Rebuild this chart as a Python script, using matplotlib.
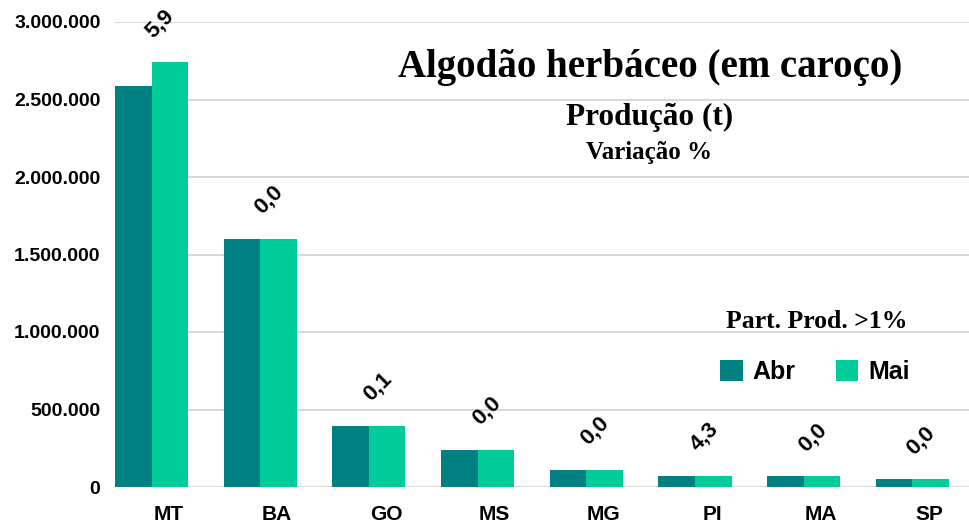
import matplotlib
matplotlib.use("Agg")
import matplotlib.pyplot as plt
from matplotlib.ticker import FuncFormatter, FixedLocator
import matplotlib.transforms as mtransforms
import numpy as np

categories = ["MT", "BA", "GO", "MS", "MG", "PI", "MA", "SP"]
abr = [2586000, 1601000, 396000, 239000, 109000, 70000, 70000, 50000]
mai = [2741000, 1601000, 396400, 239000, 109000, 73000, 70000, 50000]
variacao = [5.9, 0.0, 0.1, 0.0, 0.0, 4.3, 0.0, 0.0]
yticks = [0, 500000, 1000000, 1500000, 2000000, 2500000, 3000000]
series_names = ["Abr", "Mai"]

c_abr = "#008080"
c_mai = "#00CC99"
grid_c = "#D9D9D9"

fig = plt.figure(figsize=(9.7, 5.24), dpi=100)
ax = fig.add_axes([115/970, 1 - 487/524, 1 - 115/970, (487 - 22)/524])

x = np.arange(len(categories))
w = 0.336
ax.bar(x - w/2, abr, width=w, color=c_abr, label=series_names[0], zorder=2)
ax.bar(x + w/2, mai, width=w, color=c_mai, label=series_names[1], zorder=2)

ax.set_ylim(0, 3000000)
ax.set_xlim(-w, 7.53)
ax.yaxis.set_major_locator(FixedLocator(yticks))
ax.yaxis.set_major_formatter(FuncFormatter(lambda v, p: f"{int(v):,}".replace(",", ".")))
ax.grid(axis="y", color=grid_c, linewidth=1.5, zorder=0)
for s in ["top", "right", "left", "bottom"]:
    ax.spines[s].set_visible(False)
ax.axhline(0, color=grid_c, linewidth=1.5, zorder=1)

ax.tick_params(axis="y", length=0, pad=10.5)
ax.tick_params(axis="x", length=0, pad=13)
ax.set_xticks(x)
ax.set_xticklabels(categories)
for lab in ax.get_yticklabels():
    lab.set_fontfamily("Liberation Sans")
    lab.set_fontweight("bold")
    lab.set_fontsize(14)
offset = mtransforms.ScaledTranslation(17/100, 0, fig.dpi_scale_trans)
for lab in ax.get_xticklabels():
    lab.set_fontfamily("Liberation Sans")
    lab.set_fontweight("bold")
    lab.set_fontsize(15)
    lab.set_transform(lab.get_transform() + offset)

for i, (v, m) in enumerate(zip(variacao, mai)):
    ax.annotate(f"{v:.1f}".replace(".", ","), xy=(i + 0.08, m), xytext=(0, 28),
                textcoords="offset points", rotation=45, ha="center", va="center",
                fontfamily="Liberation Sans", fontweight="bold", fontsize=16,
                rotation_mode="anchor", zorder=3)

fig.text(650/970, 1 - 67/524, "Algodão herbáceo (em caroço)", ha="center", va="center",
         fontfamily="Liberation Serif", fontweight="bold", fontsize=28)
fig.text(650/970, 1 - 117/524, "Produção (t)", ha="center", va="center",
         fontfamily="Liberation Serif", fontweight="bold", fontsize=22.5)
fig.text(649/970, 1 - 153/524, "Variação %", ha="center", va="center",
         fontfamily="Liberation Serif", fontweight="bold", fontsize=18)
fig.text(817/970, 1 - 321/524, "Part. Prod. >1%", ha="center", va="center",
         fontfamily="Liberation Serif", fontweight="bold", fontsize=18.5)

leg = ax.legend(loc="center", bbox_to_anchor=(815/970, 1 - 372/524), bbox_transform=fig.transFigure,
                ncol=2, frameon=False, handlelength=0.9, handleheight=0.9, handletextpad=0.4,
                columnspacing=1.6, prop={"family": "Liberation Sans", "weight": "bold", "size": 18})

fig.savefig("out.png", dpi=100, facecolor="white")
